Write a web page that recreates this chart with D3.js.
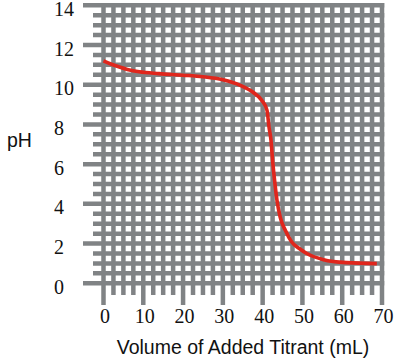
<!DOCTYPE html>
<html>
<head>
<meta charset="utf-8">
<script src="https://cdn.jsdelivr.net/npm/d3@7"></script>
<style>
  html, body { margin: 0; padding: 0; background: #fff; }
  svg { display: block; }
</style>
</head>
<body>
<svg id="chart" width="403" height="360"></svg>
<script>
// ---- data ----
const xTickValues = [0, 10, 20, 30, 40, 50, 60, 70];
const yTickValues = [0, 2, 4, 6, 8, 10, 12, 14];
const volumeML = [0, 2, 4, 6, 9, 14, 20, 25, 30, 34.4, 37.6, 39.8, 41.1, 41.6, 42.1, 42.5, 43.0, 43.6, 44.4, 45.7, 47.3, 49.2, 51.1, 55.3, 61.1, 68.7];
const pHValues = [11.2, 11.03, 10.89, 10.77, 10.65, 10.56, 10.48, 10.40, 10.25, 9.97, 9.62, 9.21, 8.71, 7.87, 7.20, 6.19, 5.19, 4.18, 3.34, 2.67, 2.08, 1.75, 1.50, 1.19, 1.04, 0.99];
const xTitle = "Volume of Added Titrant (mL)";
const yTitle = "pH";

// ---- layout ----
const svg = d3.select("#chart");
const x = d3.scaleLinear().domain([0, 70]).range([103.5, 382]);
const y = d3.scaleLinear().domain([0, 14]).range([283.3, 5.3]);
const gridColor = "#808385";
const lw = 4.5;

const g = svg.append("g");

// horizontal grid lines every 0.5 pH
const hLines = d3.range(0, 14.001, 0.5);
g.selectAll("line.h").data(hLines).enter().append("line")
  .attr("class", "h")
  .attr("x1", d => (Math.abs(d % 2) < 1e-6) ? 83 : 93)
  .attr("x2", x(70) + lw / 2)
  .attr("y1", d => y(d)).attr("y2", d => y(d))
  .attr("stroke", gridColor).attr("stroke-width", lw);

// vertical grid lines every 2.5 mL
const vLines = d3.range(0, 70.001, 2.5);
g.selectAll("line.v").data(vLines).enter().append("line")
  .attr("class", "v")
  .attr("x1", d => x(d)).attr("x2", d => x(d))
  .attr("y1", y(14) - lw / 2)
  .attr("y2", d => (Math.abs(d % 10) < 1e-6) ? 305 : 295)
  .attr("stroke", gridColor).attr("stroke-width", lw);

// curve
const pts = volumeML.map((v, i) => [v, pHValues[i]]);
const line = d3.line().x(d => x(d[0])).y(d => y(d[1])).curve(d3.curveMonotoneX);
svg.append("path").datum(pts)
  .attr("d", line)
  .attr("fill", "none")
  .attr("stroke", "#e0261c")
  .attr("stroke-width", 3.6)
  .attr("stroke-linecap", "butt");

// y tick labels
svg.selectAll("text.yt").data(yTickValues).enter().append("text")
  .attr("class", "yt")
  .attr("x", 54)
  .attr("y", d => y(d) + 10.5)
  .attr("font-family", "'Liberation Serif', 'Times New Roman', serif")
  .attr("font-size", 20)
  .attr("fill", "#111")
  .text(d => d);

// x tick labels
svg.selectAll("text.xt").data(xTickValues).enter().append("text")
  .attr("class", "xt")
  .attr("x", d => x(d) + 1.5)
  .attr("y", 323)
  .attr("text-anchor", "middle")
  .attr("font-family", "'Liberation Serif', 'Times New Roman', serif")
  .attr("font-size", 20)
  .attr("fill", "#111")
  .text(d => d);

// titles
svg.append("text")
  .attr("x", 243).attr("y", 354)
  .attr("text-anchor", "middle")
  .attr("font-family", "'Liberation Sans', Arial, sans-serif")
  .attr("font-size", 19.5)
  .attr("fill", "#111")
  .text(xTitle);

svg.append("text")
  .attr("x", 7).attr("y", 147)
  .attr("font-family", "'Liberation Sans', Arial, sans-serif")
  .attr("font-size", 19.5)
  .attr("fill", "#111")
  .text(yTitle);
</script>
</body>
</html>
